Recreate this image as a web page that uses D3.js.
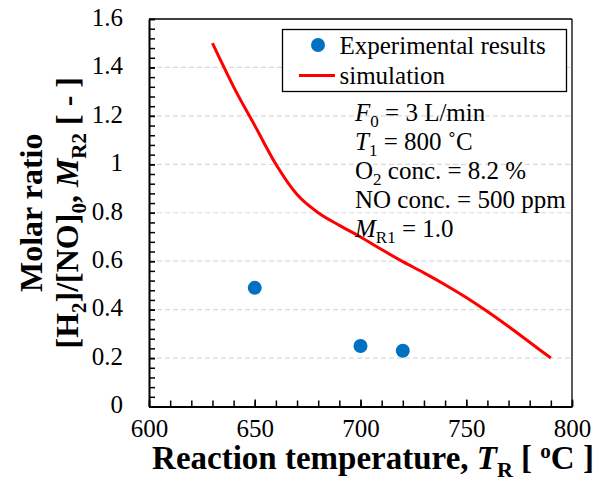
<!DOCTYPE html>
<html>
<head>
<meta charset="utf-8">
<script src="https://cdn.jsdelivr.net/npm/d3@7"></script>
<style>
  body { margin: 0; background: #fff; }
  text { font-family: "Liberation Serif", "Times New Roman", serif; }
</style>
</head>
<body>
<svg id="chart" width="604" height="495"></svg>
<script>
// data
var expTemp = [650, 700, 720];
var expRatio = [0.49, 0.25, 0.23];

var simTemp = [630, 640, 650, 660, 670, 680, 690, 700, 710, 720, 730, 740, 750, 760, 770, 780, 790];
var simRatio = [1.50, 1.32, 1.16, 1.00, 0.875, 0.80, 0.748, 0.70, 0.648, 0.598, 0.552, 0.503, 0.45, 0.392, 0.33, 0.265, 0.20];

var xTicks = [600, 650, 700, 750, 800];
var yTicks = [0, 0.2, 0.4, 0.6, 0.8, 1, 1.2, 1.4, 1.6];
var legendLabels = ["Experimental results", "simulation"];

// annotation lines: [text, style] pieces, style "i" italic, "s" subscript
var notes = [
    [["F", "i"], ["0", "s"], [" = 3 L/min", ""]],
    [["T", "i"], ["1", "s"], [" = 800 \u02DAC", ""]],
    [["O", ""], ["2", "s"], [" conc. = 8.2 %", ""]],
    [["NO conc. = 500 ppm", ""]],
    [["M", "i"], ["R1", "s"], [" = 1.0", ""]]
];

var serif = "'Liberation Serif', 'Times New Roman', serif";
var svg = d3.select("#chart");
var pL = 149, pR = 572, pT = 19, pB = 406.5;

var x = d3.scaleLinear().domain([600, 800]).range([pL, pR]);
var y = d3.scaleLinear().domain([0, 1.6]).range([pB, pT]);

// grid
svg.append("g").selectAll("line")
    .data(yTicks.filter(function (d) { return d > 0 && d < 1.6; }))
    .enter().append("line")
    .attr("x1", pL).attr("x2", pR)
    .attr("y1", function (d) { return y(d); })
    .attr("y2", function (d) { return y(d); })
    .attr("stroke", "#d9d9d9")
    .attr("stroke-width", 1.2)
    .attr("stroke-dasharray", "5,3");

// frame top / right
svg.append("line").attr("x1", pL).attr("x2", pR).attr("y1", pT).attr("y2", pT)
    .attr("stroke", "#000").attr("stroke-width", 1.3);
svg.append("line").attr("x1", pR).attr("x2", pR).attr("y1", pT).attr("y2", pB)
    .attr("stroke", "#000").attr("stroke-width", 1.3);

// minor ticks
svg.append("g").attr("transform", "translate(0," + pB + ")")
    .call(d3.axisBottom(x).tickValues(d3.range(600, 801, 10)).tickSize(-6).tickFormat(""))
    .call(function (g) { g.select(".domain").remove(); })
    .selectAll("line").attr("stroke-width", 1.5);
svg.append("g").attr("transform", "translate(" + pL + ",0)")
    .call(d3.axisLeft(y).tickValues(d3.range(0, 41, 1).map(function (i) { return i * 0.04; })).tickSize(-6).tickFormat(""))
    .call(function (g) { g.select(".domain").remove(); })
    .selectAll("line").attr("stroke-width", 1.5);

// main axes
var xAxis = svg.append("g").attr("transform", "translate(0," + pB + ")")
    .call(d3.axisBottom(x).tickValues(xTicks).tickSize(-7).tickSizeOuter(0).tickPadding(12));
var yAxis = svg.append("g").attr("transform", "translate(" + pL + ",0)")
    .call(d3.axisLeft(y).tickValues(yTicks).tickSize(-6).tickSizeOuter(0).tickPadding(26)
        .tickFormat(function (d) { return String(+d.toFixed(1)); }));

[xAxis, yAxis].forEach(function (g) {
    g.attr("font-size", 25).attr("font-family", serif);
    g.select(".domain").attr("stroke", "#000").attr("stroke-width", 2);
    g.selectAll(".tick line").attr("stroke-width", 1.5);
    g.selectAll("text").attr("fill", "#000").style("font-family", serif);
});
xAxis.selectAll("text").attr("dy", null).attr("y", 30);
yAxis.selectAll("text").attr("dy", "0.33em").attr("transform", "translate(0,-2)");

// simulation line
var line = d3.line()
    .x(function (d, i) { return x(simTemp[i]); })
    .y(function (d) { return y(d); })
    .curve(d3.curveMonotoneX);
svg.append("path").datum(simRatio)
    .attr("d", line)
    .attr("fill", "none")
    .attr("stroke", "#ff0000")
    .attr("stroke-width", 3);

// experimental points
svg.append("g").selectAll("circle")
    .data(expRatio)
    .enter().append("circle")
    .attr("cx", function (d, i) { return x(expTemp[i]); })
    .attr("cy", function (d) { return y(d); })
    .attr("r", 7)
    .attr("fill", "#0070c0");

// legend
var lg = svg.append("g");
lg.append("rect").attr("x", 282.5).attr("y", 29.5).attr("width", 284).attr("height", 62)
    .attr("fill", "#fff").attr("stroke", "#000").attr("stroke-width", 1.3);
lg.append("circle").attr("cx", 318).attr("cy", 45).attr("r", 7).attr("fill", "#0070c0");
lg.append("line").attr("x1", 299).attr("x2", 335).attr("y1", 75.5).attr("y2", 75.5)
    .attr("stroke", "#ff0000").attr("stroke-width", 3);
lg.selectAll("text").data(legendLabels).enter().append("text")
    .attr("x", 339.5)
    .attr("y", function (d, i) { return 53.5 + i * 30; })
    .attr("font-size", 25)
    .text(function (d) { return d; });

// annotations
notes.forEach(function (parts, i) {
    var t = svg.append("text").attr("x", 355).attr("y", 121 + i * 29).attr("font-size", 25);
    var shifted = false;
    parts.forEach(function (p) {
        var s = t.append("tspan").text(p[0]);
        if (p[1] == "i") s.attr("font-style", "italic");
        if (p[1] == "s") { s.attr("font-size", 17).attr("dy", 6); shifted = true; }
        else if (shifted) { s.attr("dy", -6); shifted = false; }
    });
});

// x title
var xt = svg.append("text").attr("x", 373).attr("y", 469)
    .attr("text-anchor", "middle").attr("font-size", 33).attr("font-weight", "bold");
xt.append("tspan").text("Reaction temperature, ");
xt.append("tspan").attr("font-style", "italic").text("T");
xt.append("tspan").attr("font-size", 22).attr("dy", 8).text("R");
xt.append("tspan").attr("dy", -8).text(" [ ");
xt.append("tspan").attr("font-size", 21).attr("dy", -11).text("o");
xt.append("tspan").attr("dy", 11).text("C ]");

// y title
var cy = (pT + pB) / 2;
svg.append("text").attr("transform", "rotate(-90)")
    .attr("x", -cy).attr("y", 42)
    .attr("text-anchor", "middle").attr("font-size", 32).attr("font-weight", "bold")
    .text("Molar ratio");
var yt = svg.append("text").attr("transform", "rotate(-90)")
    .attr("x", -cy).attr("y", 78)
    .attr("text-anchor", "middle").attr("font-size", 32).attr("font-weight", "bold");
yt.append("tspan").text("[H");
yt.append("tspan").attr("font-size", 21).attr("dy", 8).text("2");
yt.append("tspan").attr("dy", -8).text("]/[NO]");
yt.append("tspan").attr("font-size", 21).attr("dy", 8).text("0");
yt.append("tspan").attr("dy", -8).text(", ");
yt.append("tspan").attr("font-style", "italic").text("M");
yt.append("tspan").attr("font-size", 21).attr("dy", 8).text("R2");
yt.append("tspan").attr("dy", -8).text(" [ - ]");
</script>
</body>
</html>
